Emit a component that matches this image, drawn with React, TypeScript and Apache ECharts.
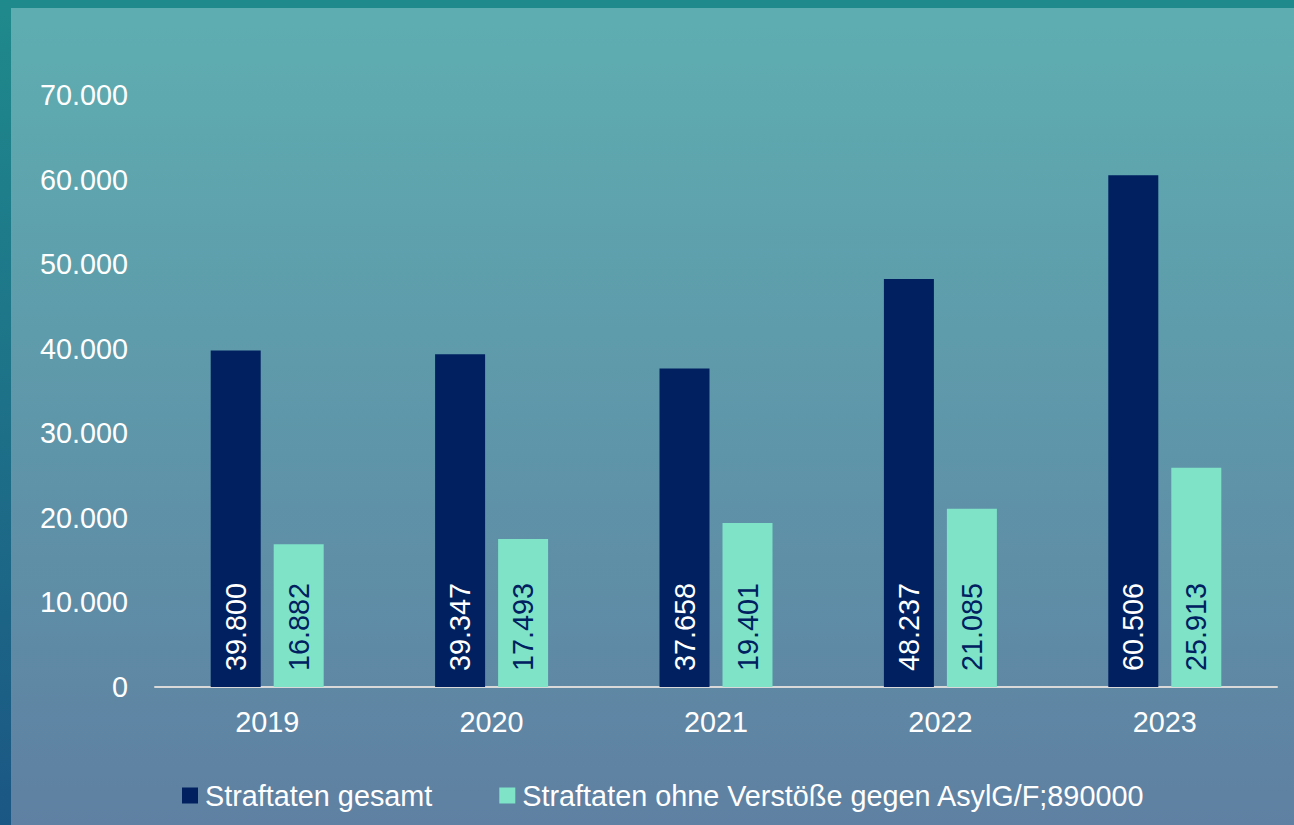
import React, { useEffect, useRef } from "react";
import * as echarts from "echarts";

const years = ["2019", "2020", "2021", "2022", "2023"];
const totalName = "Straftaten gesamt";
const withoutName = "Straftaten ohne Verstöße gegen AsylG/F;890000";
const totalValues = [39800, 39347, 37658, 48237, 60506];
const withoutValues = [16882, 17493, 19401, 21085, 25913];

const fmt = (v: number) => {
  const s = Math.round(v).toString();
  return s.replace(/\B(?=(\d{3})+(?!\d))/g, ".");
};

const FONT = "'Liberation Sans', Arial, sans-serif";
const FS = 28.8;

export default function App() {
  const ref = useRef<HTMLDivElement>(null);
  useEffect(() => {
    document.body.style.margin = "0";
    const chart = echarts.init(ref.current!, undefined, { renderer: "svg" });
    chart.setOption({
      animation: false,
      backgroundColor: new echarts.graphic.LinearGradient(0, 0, 0, 1, [
        { offset: 0, color: "#5eaeb1" },
        { offset: 1, color: "#5f80a2" },
      ]),
      textStyle: { fontFamily: FONT },
      grid: { left: 144, right: 17, top: 87, bottom: 138, containLabel: false },
      legend: {
        left: 166,
        top: 768,
        itemWidth: 16,
        itemHeight: 16,
        itemGap: 67,
        icon: "rect",
        textStyle: { color: "#ffffff", fontSize: FS, fontFamily: FONT, padding: [0, 0, 0, 2] },
        data: [totalName, withoutName],
      },
      xAxis: {
        type: "category",
        data: years,
        axisLine: { lineStyle: { color: "#d9d9d9", width: 2 } },
        axisTick: { show: false },
        axisLabel: { color: "#ffffff", fontSize: FS, margin: 20, fontFamily: FONT },
      },
      yAxis: {
        type: "value",
        min: 0,
        max: 70000,
        interval: 10000,
        splitLine: { show: false },
        axisLine: { show: false },
        axisTick: { show: false },
        axisLabel: {
          color: "#ffffff",
          fontSize: FS,
          margin: 27,
          fontFamily: FONT,
          formatter: (v: number) => fmt(v),
        },
      },
      series: [
        {
          name: totalName,
          type: "bar",
          data: totalValues,
          barWidth: 50,
          barGap: "26%",
          itemStyle: { color: "#002060" },
          label: {
            show: true,
            position: "insideBottom",
            rotate: 90,
            align: "left",
            verticalAlign: "middle",
            distance: 16,
            color: "#ffffff",
            fontSize: FS,
            fontFamily: FONT,
            formatter: (p: any) => fmt(p.value),
          },
        },
        {
          name: withoutName,
          type: "bar",
          data: withoutValues,
          barWidth: 50,
          barGap: "26%",
          itemStyle: { color: "#7fe3c8" },
          label: {
            show: true,
            position: "insideBottom",
            rotate: 90,
            align: "left",
            verticalAlign: "middle",
            distance: 16,
            color: "#002060",
            fontSize: FS,
            fontFamily: FONT,
            formatter: (p: any) => fmt(p.value),
          },
        },
      ],
    });
    return () => chart.dispose();
  }, []);
  return (
    <div
      style={{
        position: "fixed",
        left: 0,
        top: 0,
        width: 1294,
        height: 825,
        background: "linear-gradient(to bottom, #1f8a8c, #1b5784)",
      }}
    >
      <div ref={ref} style={{ position: "absolute", left: 11, top: 8, width: 1283, height: 817 }} />
    </div>
  );
}
